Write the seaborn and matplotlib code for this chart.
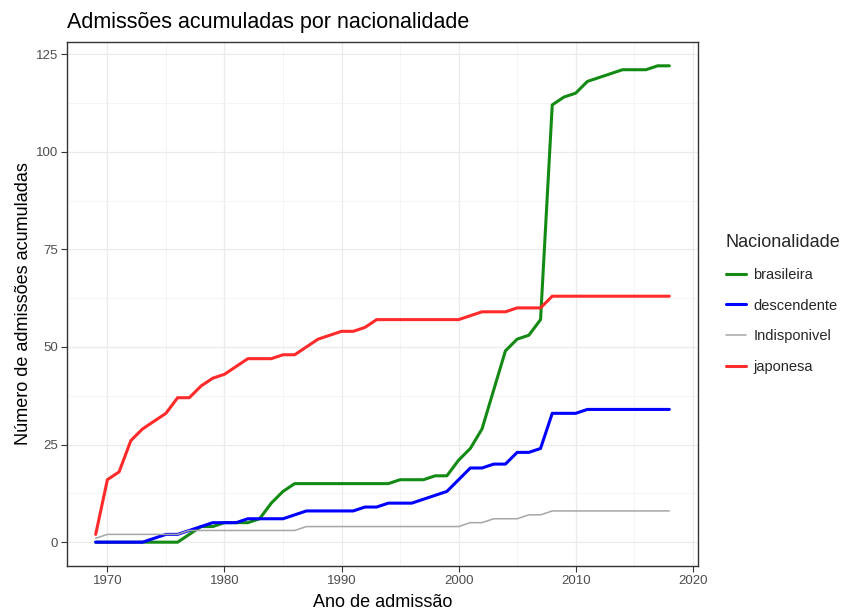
import numpy as np
import pandas as pd
import matplotlib
matplotlib.use("Agg")
import matplotlib.pyplot as plt
import seaborn as sns
from matplotlib.ticker import MultipleLocator

anos = list(range(1969, 2019))

brasileira = [0, 0, 0, 0, 0, 0, 0, 0, 2, 4, 4, 5, 5, 5, 6, 10, 13, 15, 15, 15,
              15, 15, 15, 15, 15, 15, 16, 16, 16, 17, 17, 21, 24, 29, 39, 49, 52, 53, 57, 112,
              114, 115, 118, 119, 120, 121, 121, 121, 122, 122]
descendente = [0, 0, 0, 0, 0, 1, 2, 2, 3, 4, 5, 5, 5, 6, 6, 6, 6, 7, 8, 8,
               8, 8, 8, 9, 9, 10, 10, 10, 11, 12, 13, 16, 19, 19, 20, 20, 23, 23, 24, 33,
               33, 33, 34, 34, 34, 34, 34, 34, 34, 34]
indisponivel = [1, 2, 2, 2, 2, 2, 2, 2, 3, 3, 3, 3, 3, 3, 3, 3, 3, 3, 4, 4,
                4, 4, 4, 4, 4, 4, 4, 4, 4, 4, 4, 4, 5, 5, 6, 6, 6, 7, 7, 8,
                8, 8, 8, 8, 8, 8, 8, 8, 8, 8]
japonesa = [2, 16, 18, 26, 29, 31, 33, 37, 37, 40, 42, 43, 45, 47, 47, 47, 48, 48, 50, 52,
            53, 54, 54, 55, 57, 57, 57, 57, 57, 57, 57, 57, 58, 59, 59, 59, 60, 60, 60, 63,
            63, 63, 63, 63, 63, 63, 63, 63, 63, 63]

categorias = ["brasileira", "descendente", "Indisponivel", "japonesa"]
cores = ["#138A13", "#0000FF", "#A6A6A6", "#FF2A2A"]
x_ticks = [1970, 1980, 1990, 2000, 2010, 2020]
y_ticks = [0, 25, 50, 75, 100, 125]

df = pd.DataFrame({
    "ano": anos * 4,
    "n": brasileira + descendente + indisponivel + japonesa,
    "Nacionalidade": sum([[c] * len(anos) for c in categorias], []),
})

sns.set_theme(style="white")
plt.rcParams["font.family"] = ["Liberation Sans", "DejaVu Sans"]

fig = plt.figure(figsize=(8.52, 6.13), dpi=100)
ax = fig.add_axes([67 / 852, 1 - 566 / 613, (698 - 67) / 852, (566 - 42) / 613])

palette = dict(zip(categorias, cores))
sizes = {"brasileira": 2.2, "descendente": 2.2, "Indisponivel": 1.1, "japonesa": 2.2}
sns.lineplot(data=df, x="ano", y="n", hue="Nacionalidade", size="Nacionalidade",
             hue_order=categorias, size_order=categorias,
             palette=palette, sizes=sizes, ax=ax, legend="full")

ax.set_xlim(1966.55, 2020.45)
ax.set_ylim(-6.1, 128.1)
ax.set_xticks(x_ticks)
ax.set_yticks(y_ticks)
ax.xaxis.set_minor_locator(MultipleLocator(5))
ax.yaxis.set_minor_locator(MultipleLocator(12.5))
ax.grid(True, which="major", color="#EBEBEB", linewidth=0.9)
ax.grid(True, which="minor", color="#F2F2F2", linewidth=0.6)
ax.set_axisbelow(True)
for s in ax.spines.values():
    s.set_color("#333333")
    s.set_linewidth(1.0)
ax.tick_params(axis="both", which="major", length=4, width=0.8, color="#333333",
               labelsize=9.5, labelcolor="#4D4D4D", pad=2.5, bottom=True, left=True)
ax.tick_params(which="minor", length=0)

ax.set_xlabel("Ano de admissão", fontsize=13, color="black", labelpad=5)
ax.set_ylabel("Número de admissões acumuladas", fontsize=13, color="black", labelpad=3)
ax.set_title("Admissões acumuladas por nacionalidade", loc="left", fontsize=15.5,
             color="black", pad=10)

sns.move_legend(ax, loc="center left", bbox_to_anchor=(1.044, 0.5), frameon=False,
                title="Nacionalidade", fontsize=10.5, title_fontsize=13,
                handlelength=1.4, handletextpad=0.5, labelspacing=1.15,
                borderaxespad=0, borderpad=0, alignment="left")

fig.savefig("out.png", dpi=100)
